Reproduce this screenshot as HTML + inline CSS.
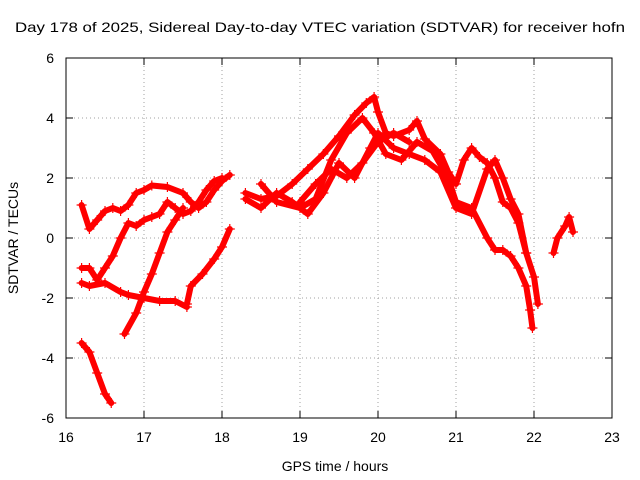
<!DOCTYPE html>
<html><head><meta charset="utf-8"><style>
body{margin:0;background:#fff;}
svg{display:block;font-family:"Liberation Sans",sans-serif;}
</style></head><body>
<svg id="chart" width="640" height="480" viewBox="0 0 640 480">
<rect width="640" height="480" fill="#fff"/>
<text x="320" y="32" text-anchor="middle" font-size="14" textLength="610" lengthAdjust="spacingAndGlyphs">Day 178 of 2025, Sidereal Day-to-day VTEC variation (SDTVAR) for receiver hofn</text>
<g id="grid"></g>
<g id="series"></g>
<rect x="66" y="58" width="546" height="360" fill="none" stroke="#000" stroke-width="1"/>
<g id="ticks"></g>
<text x="335" y="471" text-anchor="middle" font-size="14">GPS time / hours</text>
<text transform="translate(18,238) rotate(-90)" text-anchor="middle" font-size="14">SDTVAR / TECUs</text>
</svg>
<script>
const xTicks=[16,17,18,19,20,21,22,23];
const yTicks=[-6,-4,-2,0,2,4,6];
const trackA=[[16.2,-3.5],[16.3,-3.8],[16.4,-4.5],[16.5,-5.2],[16.58,-5.5]];
const trackB=[[16.2,-1.5],[16.3,-1.6],[16.5,-1.5],[16.7,-1.8],[16.8,-1.9],[17.0,-2.0],[17.2,-2.1],[17.4,-2.1],[17.55,-2.3]];
const trackC=[[16.75,-3.2],[16.9,-2.5],[17.0,-1.8],[17.1,-1.2],[17.2,-0.5],[17.3,0.2],[17.4,0.6],[17.5,1.0]];
const trackC2=[[17.55,-2.2],[17.6,-1.6],[17.75,-1.2],[17.9,-0.7],[18.0,-0.3],[18.1,0.3]];
const trackD=[[16.2,1.1],[16.3,0.3],[16.4,0.6],[16.5,0.9],[16.6,1.0],[16.7,0.9],[16.8,1.1],[16.9,1.5],[17.0,1.6],[17.1,1.75],[17.3,1.7],[17.5,1.5],[17.6,1.2],[17.7,1.0],[17.8,1.2],[17.9,1.6],[18.0,1.9],[18.1,2.1]];
const trackE=[[16.2,-1.0],[16.3,-1.0],[16.4,-1.4],[16.5,-1.0],[16.6,-0.6],[16.7,0.0],[16.8,0.5],[16.9,0.4],[17.0,0.6],[17.1,0.7],[17.2,0.8],[17.3,1.2],[17.4,1.0],[17.5,0.8],[17.6,0.9],[17.7,1.2],[17.8,1.6],[17.9,1.9],[18.0,2.0]];
const trackF=[[18.3,1.5],[18.5,1.3],[18.7,1.4],[18.9,1.8],[19.1,2.3],[19.3,2.8],[19.5,3.4],[19.7,4.1],[19.85,4.5],[19.95,4.7],[20.0,4.2],[20.1,3.5],[20.2,3.4],[20.4,3.6],[20.5,3.9],[20.6,3.3],[20.8,2.8],[20.9,2.2],[21.0,1.8],[21.1,2.6],[21.2,3.0],[21.3,2.7],[21.4,2.5],[21.5,2.0],[21.6,1.2],[21.7,1.0],[21.8,0.5],[21.9,-0.5],[22.0,-1.3],[22.05,-2.2]];
const trackG=[[18.3,1.3],[18.5,1.0],[18.7,1.5],[18.9,1.2],[19.1,0.8],[19.3,1.5],[19.5,2.5],[19.7,2.0],[19.9,3.0],[20.0,3.5],[20.2,3.0],[20.4,2.8],[20.6,2.6],[20.8,2.2],[21.0,1.0],[21.2,0.8],[21.4,2.3],[21.5,2.6],[21.6,2.0],[21.7,1.3],[21.8,0.8],[21.9,-0.5]];
const trackH=[[18.5,1.8],[18.7,1.2],[19.0,1.0],[19.2,1.3],[19.4,2.6],[19.6,3.5],[19.8,4.0],[19.95,3.5],[20.1,2.8],[20.3,2.6],[20.5,3.2],[20.7,2.9],[20.9,2.0],[21.0,1.2],[21.2,1.0],[21.4,0.0],[21.5,-0.4],[21.6,-0.4],[21.7,-0.6],[21.8,-1.0],[21.9,-1.6],[21.95,-2.4],[21.98,-3.0]];
const trackI=[[19.0,1.2],[19.2,1.8],[19.4,2.3],[19.6,2.0],[19.8,2.5],[20.0,3.2],[20.2,3.5],[20.4,3.2]];
const trackJ=[[22.25,-0.5],[22.3,0.0],[22.4,0.4],[22.45,0.7],[22.5,0.2]];
const tracks=[trackA,trackB,trackC,trackC2,trackD,trackE,trackF,trackG,trackH,trackI,trackJ];

const X0=66,X1=612,Y0=418,Y1=58;
const xs=v=>X0+(v-16)/(23-16)*(X1-X0);
const ys=v=>Y0-(v+6)/12*(Y0-Y1);
const NS='http://www.w3.org/2000/svg';
const grid=document.getElementById('grid'),ticks=document.getElementById('ticks'),series=document.getElementById('series');
function mk(tag,attrs,parent){const e=document.createElementNS(NS,tag);for(const k in attrs)e.setAttribute(k,attrs[k]);parent.appendChild(e);return e;}
xTicks.forEach(t=>{
 const x=xs(t);
 if(t>16&&t<23){const g=mk('line',{x1:x,x2:x,y1:Y1,y2:Y0,stroke:'#a0a0a0','stroke-dasharray':'1,3'},grid);
 
 }
 mk('line',{x1:x,x2:x,y1:Y0,y2:Y0-7,stroke:'#000'},ticks);
 mk('line',{x1:x,x2:x,y1:Y1,y2:Y1+7,stroke:'#000'},ticks);
 const l=mk('text',{x:x,y:Y0+24,'text-anchor':'middle','font-size':'14'},ticks);l.textContent=t;
 
 
});
yTicks.forEach(t=>{
 const y=ys(t);
 if(t>-6&&t<6){const g=mk('line',{x1:X0,x2:X1,y1:y,y2:y,stroke:'#a0a0a0','stroke-dasharray':'1,3'},grid);
 
 }
 mk('line',{x1:X0,x2:X0+7,y1:y,y2:y,stroke:'#000'},ticks);
 mk('line',{x1:X1,x2:X1-7,y1:y,y2:y,stroke:'#000'},ticks);
 const l=mk('text',{x:X0-12,y:y+5,'text-anchor':'end','font-size':'14'},ticks);l.textContent=t;
 
 
});
tracks.forEach(tr=>{
 const pts=tr.map(p=>xs(p[0])+','+ys(p[1])).join(' ');
 const pl=mk('polyline',{points:pts,fill:'none',stroke:'#f00','stroke-width':'6','stroke-linejoin':'round','stroke-linecap':'round'},series);
 
 
 tr.forEach(p=>{
  const x=xs(p[0]),y=ys(p[1]);
  const m=mk('path',{d:`M${x-5},${y}h10M${x},${y-5}v10`,stroke:'#f00','stroke-width':'1.2'},series);
  
  
 });
});
</script>
</body></html>
